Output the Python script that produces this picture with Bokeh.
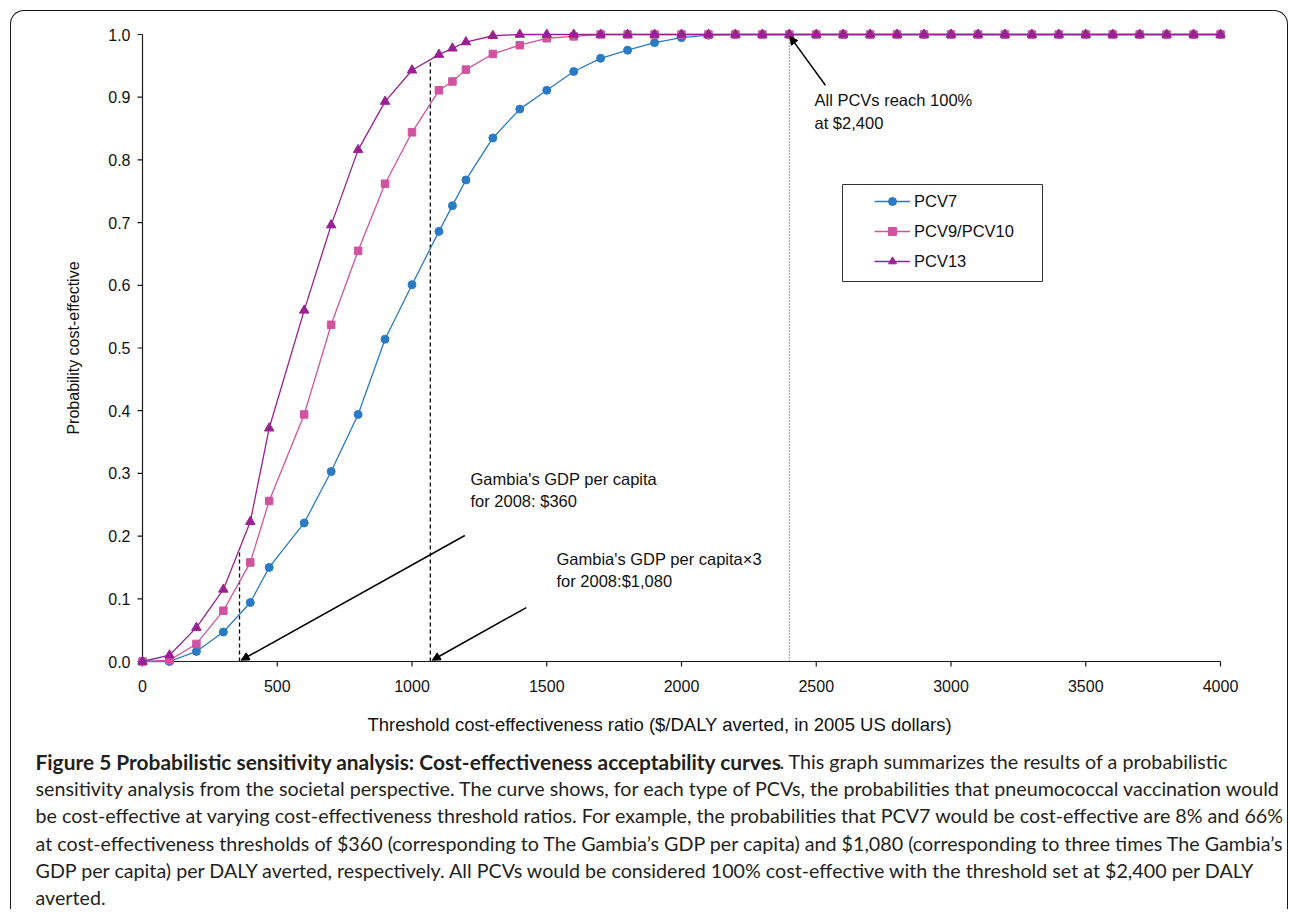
from bokeh.plotting import figure
from bokeh.layouts import column
from bokeh.models import (Range1d, FixedTicker, PrintfTickFormatter, Label, Arrow, NormalHead,
                          BoxAnnotation, Legend, LegendItem)
from bokeh.embed import file_html
from bokeh.resources import INLINE
import numpy as np

# ---------------- data ----------------
thresholds = [0, 100, 200, 300, 400, 470, 600, 700, 800, 900, 1000, 1100, 1150, 1200,
              1300, 1400, 1500, 1600, 1700, 1800, 1900, 2000, 2100, 2200, 2300, 2400,
              2500, 2600, 2700, 2800, 2900, 3000, 3100, 3200, 3300, 3400, 3500, 3600,
              3700, 3800, 3900, 4000]
pcv7 = [0.0, 0.0, 0.016, 0.047, 0.094, 0.150, 0.221, 0.303, 0.394, 0.514, 0.601, 0.686,
        0.727, 0.768, 0.835, 0.881, 0.911, 0.941, 0.962, 0.975, 0.987, 0.995, 0.999,
        1.0, 1.0, 1.0, 1.0, 1.0, 1.0, 1.0, 1.0, 1.0, 1.0, 1.0, 1.0, 1.0, 1.0, 1.0, 1.0,
        1.0, 1.0, 1.0]
pcv9_10 = [0.0, 0.002, 0.028, 0.081, 0.158, 0.256, 0.394, 0.537, 0.655, 0.762, 0.844, 0.911,
           0.925, 0.944, 0.969, 0.983, 0.994, 0.997, 1.0, 1.0, 1.0, 1.0, 1.0, 1.0, 1.0,
           1.0, 1.0, 1.0, 1.0, 1.0, 1.0, 1.0, 1.0, 1.0, 1.0, 1.0, 1.0, 1.0, 1.0, 1.0, 1.0, 1.0]
pcv13 = [0.0, 0.010, 0.054, 0.115, 0.223, 0.372, 0.560, 0.696, 0.816, 0.893, 0.943, 0.968,
         0.978, 0.988, 0.998, 1.0, 1.0, 1.0, 1.0, 1.0, 1.0, 1.0, 1.0, 1.0, 1.0, 1.0, 1.0,
         1.0, 1.0, 1.0, 1.0, 1.0, 1.0, 1.0, 1.0, 1.0, 1.0, 1.0, 1.0, 1.0, 1.0, 1.0]
series_names = ["PCV7", "PCV9/PCV10", "PCV13"]
x_ticks = [0, 500, 1000, 1500, 2000, 2500, 3000, 3500, 4000]
y_ticks = [0.0, 0.1, 0.2, 0.3, 0.4, 0.5, 0.6, 0.7, 0.8, 0.9, 1.0]
x_lo, x_hi = 0, 4000
y_lo, y_hi = 0.0, 1.0
gdp_lines = [360, 1068]          # GDP per capita and 3x GDP per capita (as drawn)
all_reach = 2400                 # all PCVs reach 100 %
x_title = "Threshold cost-effectiveness ratio ($/DALY averted, in 2005 US dollars)"
y_title = "Probability cost-effective"

caption_bold = "Figure 5 Probabilistic sensitivity analysis: Cost-effectiveness acceptability curves"
caption_lines = [
    ". This graph summarizes the results of a probabilistic",
    "sensitivity analysis from the societal perspective. The curve shows, for each type of PCVs, the probabilities that pneumococcal vaccination would",
    "be cost-effective at varying cost-effectiveness threshold ratios. For example, the probabilities that PCV7 would be cost-effective are 8% and 66%",
    "at cost-effectiveness thresholds of $360 (corresponding to The Gambia\u2019s GDP per capita) and $1,080 (corresponding to three times The Gambia\u2019s",
    "GDP per capita) per DALY averted, respectively. All PCVs would be considered 100% cost-effective with the threshold set at $2,400 per DALY",
    "averted.",
]

# ---------------- layout constants (page pixels) ----------------
OX, OY = 11, 11                    # page position of the chart canvas
PW, PH = 1276, 694                 # chart canvas size
CH = 204                           # lower canvas (x title + caption) height
CAP_TOP = OY + PH
FRAME_L, FRAME_R, FRAME_T, FRAME_B = 132, 1230, 24, 671
AX_X0, AX_X1 = 142, 1220           # page x of x_lo / x_hi
AX_Y1, AX_Y0 = 34, 661             # page y of y_hi / y_lo
sx = (AX_X1 - AX_X0) / (x_hi - x_lo)
sy = (AX_Y0 - AX_Y1) / (y_hi - y_lo)
X0 = x_lo - (AX_X0 - FRAME_L) / sx
X1 = x_hi + (FRAME_R - AX_X1) / sx
Y0 = y_lo - (FRAME_B - AX_Y0) / sy
Y1 = y_hi + (AX_Y1 - FRAME_T) / sy

def dx(px):
    return x_lo + (px - AX_X0) / sx

def dy(py):
    return y_lo + (AX_Y0 - py) / sy

C7, C9, C13 = "#2b7bc4", "#d053a0", "#9a2193"
AX_COL = "#1a1a1a"
TXT = "#111111"
FONT = "Liberation Sans"
TICK_PX = 5

p = figure(width=PW, height=PH, output_backend="svg", toolbar_location=None,
           x_range=Range1d(X0, X1), y_range=Range1d(Y0, Y1),
           min_border_left=FRAME_L - OX, min_border_top=FRAME_T - OY,
           min_border_right=(OX + PW) - FRAME_R, min_border_bottom=(OY + PH) - FRAME_B)
p.grid.visible = False
p.outline_line_color = None
p.background_fill_color = None
p.border_fill_color = None

# axes: labels from Bokeh's axes, rule drawn at the data origin
p.xaxis.ticker = FixedTicker(ticks=x_ticks)
p.yaxis.ticker = FixedTicker(ticks=y_ticks)
p.yaxis.formatter = PrintfTickFormatter(format="%.1f")
for ax in (p.xaxis[0], p.yaxis[0]):
    ax.axis_line_alpha = 0
    ax.major_tick_line_alpha = 0
    ax.major_tick_in = 0
    ax.major_tick_out = 0
    ax.minor_tick_in = 0
    ax.minor_tick_out = 0
    ax.major_label_text_font = FONT
    ax.major_label_text_font_size = "16px"
    ax.major_label_text_color = TXT
    ax.axis_label_text_font = FONT
    ax.axis_label_text_font_style = "normal"
    ax.axis_label_text_color = TXT
p.xaxis.major_label_standoff = 8
p.yaxis.axis_label = y_title
p.yaxis.axis_label_text_font_size = "16px"
p.yaxis.major_label_standoff = 2
p.yaxis.axis_label_standoff = 23

# axis rules and tick marks
p.segment(x0=[x_lo, x_lo], y0=[y_lo, y_lo], x1=[x_lo, x_hi], y1=[y_hi, y_lo],
          line_color=AX_COL, line_width=1.2)
p.segment(x0=[x_lo - TICK_PX / sx] * len(y_ticks), y0=y_ticks, x1=[x_lo] * len(y_ticks),
          y1=y_ticks, line_color=AX_COL, line_width=1.2)
p.segment(x0=x_ticks, y0=[y_lo] * len(x_ticks), x1=x_ticks,
          y1=[y_lo - TICK_PX / sy] * len(x_ticks), line_color=AX_COL, line_width=1.2)

# reference lines
tops = [float(np.interp(g, thresholds, pcv13)) for g in gdp_lines]
p.segment(x0=gdp_lines, y0=[y_lo, y_lo], x1=gdp_lines, y1=tops, line_color="black",
          line_width=1.3, line_dash="4 3")
p.segment(x0=[all_reach], y0=[y_lo], x1=[all_reach], y1=[y_hi], line_color="#333333",
          line_width=1, line_dash="1 2")

# curves
r7l = p.line(thresholds, pcv7, line_color=C7, line_width=1.3)
r7m = p.scatter(thresholds, pcv7, marker="circle", size=8, fill_color=C7, line_color=C7)
r9l = p.line(thresholds, pcv9_10, line_color=C9, line_width=1.3)
r9m = p.scatter(thresholds, pcv9_10, marker="square", size=7.5, fill_color=C9, line_color=C9)
r13l = p.line(thresholds, pcv13, line_color=C13, line_width=1.3)
r13m = p.scatter(thresholds, pcv13, marker="triangle", size=9.5, fill_color=C13, line_color=C13)

# arrows
for (xs, ys, xe, ye) in [(1196, 0.201, 366, 0.002), (1424, 0.086, 1075, 0.002),
                         (2534, 0.919, 2402, 0.997)]:
    p.add_layout(Arrow(x_start=xs, y_start=ys, x_end=xe, y_end=ye, line_color="black",
                       line_width=1.5,
                       end=NormalHead(size=8, fill_color="black", line_color="black")))

# annotation texts
def note(px, py, t):
    p.add_layout(Label(x=dx(px), y=dy(py), text=t, text_font=FONT, text_font_size="16.5px",
                       text_color=TXT, text_baseline="middle", text_align="left"))

note(470, 478, "Gambia's GDP per capita")
note(470, 500, "for 2008: $360")
note(556, 558, "Gambia's GDP per capita\u00d73")
note(556, 580, "for 2008:$1,080")
note(814, 99, "All PCVs reach 100%")
note(814, 122, "at $2,400")

# legend frame + legend
p.add_layout(BoxAnnotation(left=dx(842), right=dx(1042), top=dy(184), bottom=dy(281),
                           fill_color="white", fill_alpha=1.0, line_color="#333333",
                           line_width=1, line_alpha=1.0))
legend = Legend(items=[LegendItem(label=series_names[0], renderers=[r7l, r7m]),
                       LegendItem(label=series_names[1], renderers=[r9l, r9m]),
                       LegendItem(label=series_names[2], renderers=[r13l, r13m])],
                location=(866 - FRAME_L, FRAME_B - 279),
                glyph_width=36, glyph_height=20, label_height=20, label_standoff=4,
                spacing=10, padding=8, margin=0,
                border_line_alpha=0, background_fill_alpha=0,
                label_text_font=FONT, label_text_font_size="16.5px",
                label_text_color=TXT)
p.add_layout(legend, "center")

# ---------------- x title + caption (own canvas) ----------------
cap = figure(width=PW, height=CH, output_backend="svg", toolbar_location=None,
             x_range=Range1d(0, PW), y_range=Range1d(0, CH),
             x_axis_location=None, y_axis_location=None, min_border=0)
cap.grid.visible = False
cap.outline_line_color = None
cap.background_fill_color = None
cap.border_fill_color = None
for fig in (p, cap):
    try:
        fig.frame_align = False
    except Exception:
        pass

def cx(px):
    return px - OX

def cy(py):
    return CH - (py - CAP_TOP)

cap.add_layout(Label(x=cx(367), y=cy(724), text=x_title, text_font=FONT,
                     text_font_size="18.5px", text_color=TXT, text_baseline="middle"))

CAP_FONT = "Lato"
CAP_COL = "#231f20"
cap.add_layout(Label(x=cx(35), y=cy(761), text=caption_bold, text_font=CAP_FONT,
                     text_font_style="bold", text_font_size="20.9px", text_color=CAP_COL,
                     text_baseline="middle"))
cap_y = [761, 788, 815, 843, 870, 897]
cap_x = [779, 35, 35, 35, 35, 35]
for t, yy, xx in zip(caption_lines, cap_y, cap_x):
    cap.add_layout(Label(x=cx(xx), y=cy(yy), text=t, text_font=CAP_FONT,
                         text_font_size="19.7px", text_color=CAP_COL,
                         text_baseline="middle"))

layout = column(p, cap, margin=(10, 0, 0, 10),
                styles={"border-left": "1.4px solid #1a1a1a",
                        "border-top": "1.4px solid #1a1a1a",
                        "border-right": "1.4px solid #1a1a1a",
                        "border-top-left-radius": "14px",
                        "border-top-right-radius": "14px"})

open("out.html", "w").write(file_html(layout, INLINE))
